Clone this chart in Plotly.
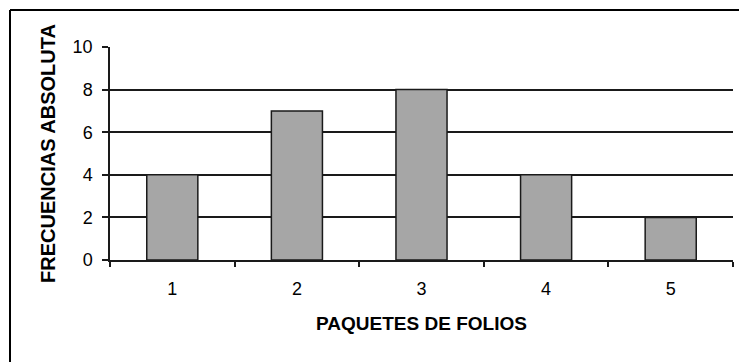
import plotly.graph_objects as go

# Frequency table: number of folio packets vs. absolute frequency
paquetes = ["1", "2", "3", "4", "5"]
frecuencias = [4, 7, 8, 4, 2]
y_ticks = [0, 2, 4, 6, 8, 10]

FONT = "Liberation Sans, Arial, sans-serif"
LINE = "#1a1a1a"

fig = go.Figure(
    go.Bar(
        x=paquetes,
        y=frecuencias,
        width=0.41,
        marker=dict(color="#a6a6a6", line=dict(color=LINE, width=1.5)),
        hoverinfo="x+y",
    )
)

fig.update_layout(
    width=739,
    height=362,
    margin=dict(l=110, r=6, t=47, b=102),
    paper_bgcolor="white",
    plot_bgcolor="white",
    showlegend=False,
    font=dict(family=FONT, size=18, color="black"),
    xaxis=dict(
        type="category",
        tickson="boundaries",
        ticks="outside",
        ticklen=5,
        tickwidth=1.5,
        tickcolor=LINE,
        showline=True,
        linecolor=LINE,
        linewidth=1.5,
        showgrid=False,
        tickfont=dict(family=FONT, size=18),
        ticklabelstandoff=12,
        title=dict(
            text="<b>PAQUETES DE FOLIOS</b>",
            font=dict(family=FONT, size=19),
            standoff=18,
        ),
    ),
    yaxis=dict(
        range=[0, 10],
        tickvals=y_ticks,
        ticks="outside",
        ticklen=6,
        tickwidth=1.5,
        tickcolor=LINE,
        showline=True,
        linecolor=LINE,
        linewidth=1.5,
        showgrid=True,
        gridcolor=LINE,
        gridwidth=1.5,
        zeroline=False,
        tickfont=dict(family=FONT, size=18),
        ticklabelstandoff=6,
        title=dict(
            text="<b>FRECUENCIAS ABSOLUTA</b>",
            font=dict(family=FONT, size=20),
            standoff=12,
        ),
    ),
)

# Outer chart border (runs off the right and bottom edges)
fig.add_shape(type="line", xref="paper", yref="paper",
              x0=-100 / 623, x1=-100 / 623, y0=-102 / 213 - 0.2, y1=1 + 37 / 213,
              line=dict(color="black", width=2))
fig.add_shape(type="line", xref="paper", yref="paper",
              x0=-100 / 623, x1=1 + 20 / 623, y0=1 + 37 / 213, y1=1 + 37 / 213,
              line=dict(color="black", width=2))

fig.write_html("out.html")
